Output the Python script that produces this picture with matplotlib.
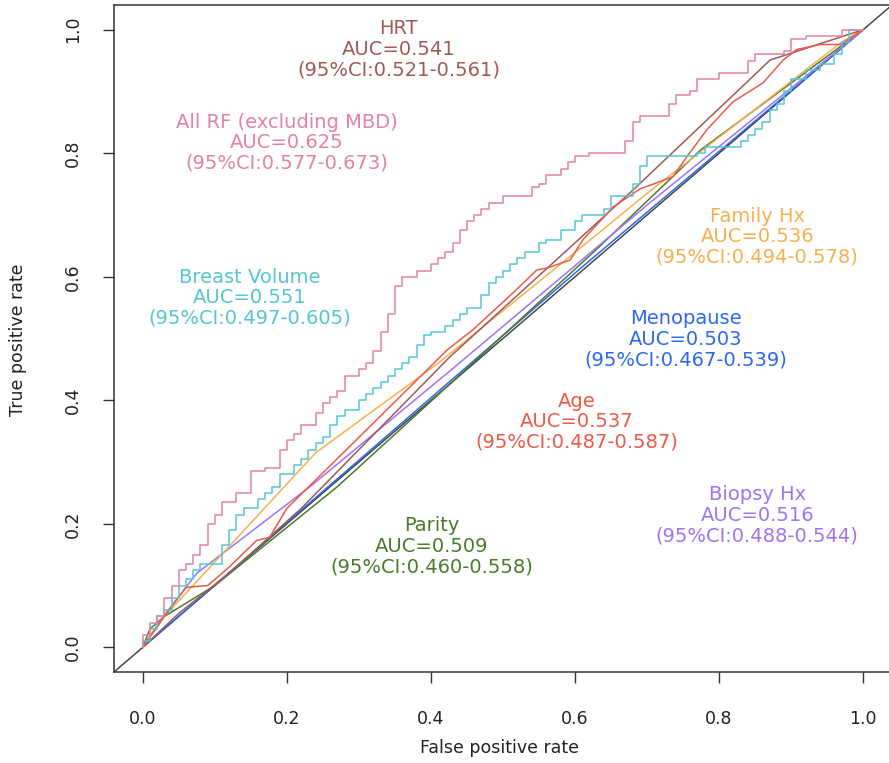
import matplotlib
matplotlib.use("Agg")
import matplotlib.pyplot as plt

# ROC curves (false positive rate, true positive rate)
allrf_fpr = [0.00, 0.01, 0.02, 0.03, 0.04, 0.05, 0.06, 0.07, 0.08, 0.09, 0.10, 0.11, 0.13, 0.15,
             0.17, 0.19, 0.20, 0.21, 0.22, 0.24, 0.25, 0.26, 0.27, 0.28, 0.30, 0.31, 0.32, 0.33,
             0.34, 0.35, 0.36, 0.38, 0.40, 0.41, 0.42, 0.43, 0.44, 0.45, 0.46, 0.47, 0.48, 0.50,
             0.54, 0.55, 0.56, 0.58, 0.59, 0.60, 0.62, 0.67, 0.68, 0.69, 0.73, 0.74, 0.76, 0.77,
             0.80, 0.84, 0.85, 0.89, 0.90, 0.92, 0.97, 1.00]
allrf_tpr = [0.00, 0.02, 0.04, 0.05, 0.08, 0.10, 0.125, 0.135, 0.15, 0.165, 0.20, 0.215, 0.235, 0.25,
             0.285, 0.29, 0.32, 0.335, 0.345, 0.36, 0.38, 0.395, 0.405, 0.415, 0.44, 0.45, 0.46, 0.48,
             0.51, 0.54, 0.585, 0.60, 0.61, 0.62, 0.63, 0.64, 0.655, 0.675, 0.69, 0.70, 0.71, 0.72,
             0.73, 0.745, 0.75, 0.765, 0.775, 0.785, 0.795, 0.80, 0.82, 0.85, 0.86, 0.88, 0.895, 0.90,
             0.92, 0.93, 0.95, 0.96, 0.965, 0.985, 0.99, 1.00]

bv_fpr = [0.00, 0.01, 0.02, 0.03, 0.04, 0.05, 0.06, 0.07, 0.08, 0.11, 0.12, 0.13, 0.14, 0.16, 0.17,
          0.18, 0.19, 0.21, 0.22, 0.23, 0.24, 0.25, 0.26, 0.27, 0.28, 0.30, 0.31, 0.32, 0.33, 0.34,
          0.35, 0.36, 0.37, 0.38, 0.39, 0.40, 0.42, 0.43, 0.44, 0.45, 0.47, 0.48, 0.49, 0.50, 0.51,
          0.52, 0.53, 0.55, 0.56, 0.58, 0.60, 0.61, 0.64, 0.65, 0.68, 0.69, 0.70, 0.73, 0.77, 0.78,
          0.83, 0.84, 0.85, 0.86, 0.87, 0.88, 0.89, 0.90, 0.92, 0.94, 0.96, 0.97, 0.98, 1.00]
bv_tpr = [0.00, 0.01, 0.03, 0.05, 0.06, 0.08, 0.10, 0.11, 0.125, 0.135, 0.165, 0.19, 0.215, 0.225, 0.24,
          0.25, 0.26, 0.28, 0.295, 0.305, 0.32, 0.33, 0.34, 0.36, 0.375, 0.385, 0.40, 0.41, 0.42, 0.43,
          0.44, 0.45, 0.46, 0.47, 0.49, 0.505, 0.51, 0.52, 0.53, 0.54, 0.55, 0.57, 0.59, 0.60, 0.61,
          0.62, 0.63, 0.64, 0.655, 0.66, 0.675, 0.69, 0.70, 0.71, 0.73, 0.75, 0.78, 0.795, 0.795, 0.80,
          0.81, 0.82, 0.83, 0.84, 0.85, 0.87, 0.88, 0.90, 0.92, 0.935, 0.945, 0.96, 0.98, 1.00]

famhx_fpr = [0.00, 0.03, 0.24, 0.41, 0.59, 0.70, 0.97, 1.00]
famhx_tpr = [0.00, 0.05, 0.315, 0.46, 0.63, 0.735, 0.98, 1.00]

age_fpr = [0.00, 0.03, 0.06, 0.09, 0.12, 0.158, 0.176, 0.20, 0.30, 0.385, 0.422, 0.458, 0.514, 0.547,
           0.561, 0.593, 0.611, 0.653, 0.69, 0.736, 0.755, 0.783, 0.819, 0.861, 0.889, 0.908, 0.94,
           0.968, 1.00]
age_tpr = [0.00, 0.05, 0.097, 0.10, 0.13, 0.173, 0.178, 0.225, 0.34, 0.438, 0.481, 0.514, 0.574, 0.611,
           0.614, 0.627, 0.66, 0.713, 0.742, 0.762, 0.794, 0.838, 0.883, 0.914, 0.951, 0.968, 0.976,
           0.976, 1.00]

hrt_fpr = [0.00, 0.05, 0.12, 0.22, 0.426, 0.681, 0.871, 1.00]
hrt_tpr = [0.00, 0.055, 0.12, 0.225, 0.47, 0.741, 0.951, 1.00]

biopsy_fpr = [0.00, 0.024, 0.075, 0.232, 0.431, 0.704, 1.00]
biopsy_tpr = [0.00, 0.043, 0.12, 0.26, 0.452, 0.72, 1.00]

parity_fpr = [0.00, 0.01, 0.03, 0.10, 0.27, 0.35, 0.50, 0.635, 0.774, 0.978, 1.00]
parity_tpr = [0.00, 0.03, 0.05, 0.10, 0.26, 0.345, 0.505, 0.65, 0.805, 0.981, 1.00]

meno_fpr = [0.00, 0.60, 1.00]
meno_tpr = [0.00, 0.606, 1.00]

names = ["HRT", "All RF (excluding MBD)", "Breast Volume", "Family Hx",
         "Menopause", "Age", "Biopsy Hx", "Parity"]
aucs = ["0.541", "0.625", "0.551", "0.536", "0.503", "0.537", "0.516", "0.509"]
cis = ["0.521-0.561", "0.577-0.673", "0.497-0.605", "0.494-0.578",
       "0.467-0.539", "0.487-0.587", "0.488-0.544", "0.460-0.558"]

colors = {"HRT": "#a05a55", "All RF (excluding MBD)": "#e283a3", "Breast Volume": "#55c6cf",
          "Family Hx": "#f6b04f", "Menopause": "#2c68ee", "Age": "#eb5a48",
          "Biopsy Hx": "#a173f0", "Parity": "#4b7a2c"}
text_pos = {"HRT": (0.355, 0.968), "All RF (excluding MBD)": (0.20, 0.817),
            "Breast Volume": (0.149, 0.566), "Family Hx": (0.853, 0.665),
            "Menopause": (0.754, 0.499), "Age": (0.602, 0.365),
            "Biopsy Hx": (0.853, 0.214), "Parity": (0.401, 0.164)}

plt.rcParams["font.family"] = ["DejaVu Sans"]
fig = plt.figure(figsize=(8.89, 7.63), dpi=100)
ax = fig.add_axes([114 / 889, 1 - 672 / 763, 778 / 889, 667 / 763])

ax.axline((0, 0), (1, 1), color="#3a3a3a", lw=1.0, zorder=1)
lw = 1.1
ax.plot(meno_fpr, meno_tpr, color=colors["Menopause"], lw=lw)
ax.plot(parity_fpr, parity_tpr, color=colors["Parity"], lw=lw)
ax.plot(biopsy_fpr, biopsy_tpr, color=colors["Biopsy Hx"], lw=lw)
ax.plot(famhx_fpr, famhx_tpr, color=colors["Family Hx"], lw=lw)
ax.plot(hrt_fpr, hrt_tpr, color=colors["HRT"], lw=lw)
ax.plot(age_fpr, age_tpr, color=colors["Age"], lw=lw)
ax.plot(bv_fpr, bv_tpr, color=colors["Breast Volume"], lw=lw, drawstyle="steps-pre")
ax.plot(allrf_fpr, allrf_tpr, color=colors["All RF (excluding MBD)"], lw=lw, drawstyle="steps-pre")

for n, a, c in zip(names, aucs, cis):
    x, y = text_pos[n]
    ax.text(x, y, "%s\nAUC=%s\n(95%%CI:%s)" % (n, a, c), color=colors[n],
            ha="center", va="center", fontsize=14, linespacing=1.1)

ax.set_xlim(-0.04, 1.04)
ax.set_ylim(-0.04, 1.04)
ticks = [0.0, 0.2, 0.4, 0.6, 0.8, 1.0]
ax.set_xticks(ticks)
ax.set_yticks(ticks)
ax.set_xticklabels(["%.1f" % t for t in ticks])
ax.set_yticklabels(["%.1f" % t for t in ticks], rotation=90, va="center")
ax.tick_params(length=8, width=1.0, color="#333333", labelsize=12.5, labelcolor="#222222")
ax.tick_params(axis="x", pad=19)
ax.tick_params(axis="y", pad=15)
for s in ax.spines.values():
    s.set_color("#333333")
    s.set_linewidth(1.1)
ax.spines["right"].set_visible(False)

fig.text(500 / 889, 1 - 748 / 763, "False positive rate", ha="center", va="center",
         fontsize=12.5, color="#222222")
fig.text(18 / 889, 1 - 340 / 763, "True positive rate", ha="center", va="center",
         rotation=90, fontsize=12.5, color="#222222")

fig.savefig("out.png", dpi=100)
